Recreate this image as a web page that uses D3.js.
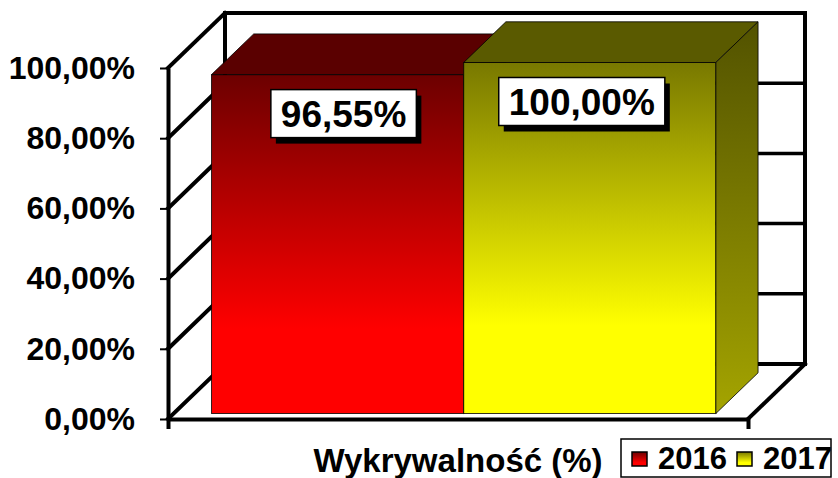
<!DOCTYPE html>
<html>
<head>
<meta charset="utf-8">
<script src="https://cdn.jsdelivr.net/npm/d3@7"></script>
<style>
  body { margin: 0; background: #fff; }
  svg text { font-family: Arial, "Liberation Sans", sans-serif; font-weight: bold; fill: #000; }
</style>
</head>
<body>
<svg id="chart" width="838" height="478"></svg>
<script>
const categories = ["Wykrywalność (%)"];
const series = ["2016", "2017"];
const values = [0.9655, 1.0];
const yTicks = [0, 0.2, 0.4, 0.6, 0.8, 1.0];

const pl = d3.formatLocale({ decimal: ",", thousands: " ", grouping: [3], currency: ["", " zł"] });
const fmt = pl.format(".2%");

const svg = d3.select("#chart");
const defs = svg.append("defs");

// depth vector of the 3d box and where the bars sit inside it
const depth = { x: 57, y: -55 };
const f0 = 0.1, f1 = 0.84;

const y = d3.scaleLinear().domain([0, 1]).range([419, 68]);
const xCat = d3.scaleBand().domain(categories).range([168, 748]);
const x = d3.scaleBand().domain(series).range([168, 748]).paddingOuter(0.15).paddingInner(0);

const colors = {
  "2016": { top: "#5a0000", dark: "#6c0000", light: "#ff0000", side: ["#4a0000", "#900000"] },
  "2017": { top: "#5a5a00", dark: "#787800", light: "#ffff00", side: ["#525200", "#a4a400"] }
};

series.forEach((s) => {
  let c = colors[s];
  let g = defs.append("linearGradient").attr("id", "front" + s)
    .attr("x1", 0).attr("y1", 0).attr("x2", 0).attr("y2", 1);
  g.append("stop").attr("offset", "0").attr("stop-color", c.dark);
  g.append("stop").attr("offset", "0.75").attr("stop-color", c.light);
  g.append("stop").attr("offset", "1").attr("stop-color", c.light);
  let gs = defs.append("linearGradient").attr("id", "side" + s)
    .attr("x1", 0).attr("y1", 0).attr("x2", 0).attr("y2", 1);
  gs.append("stop").attr("offset", "0").attr("stop-color", c.side[0]);
  gs.append("stop").attr("offset", "1").attr("stop-color", c.side[1]);
});

const x0 = xCat.range()[0], x1 = xCat.range()[1];
const yTop = y(1), yBot = y(0);

// walls
const walls = svg.append("g").attr("stroke", "#000").attr("fill", "none")
  .attr("stroke-linecap", "square");

// back wall
walls.append("rect")
  .attr("x", x0 + depth.x).attr("y", yTop + depth.y)
  .attr("width", x1 - x0).attr("height", yBot - yTop)
  .attr("fill", "#fff").attr("stroke-width", 4);

walls.selectAll("line.grid")
  .data(yTicks.slice(1, -1))
  .enter().append("line")
  .attr("class", "grid")
  .attr("x1", x0 + depth.x).attr("x2", x1 + depth.x)
  .attr("y1", (d) => y(d) + depth.y).attr("y2", (d) => y(d) + depth.y)
  .attr("stroke-width", 3.5);

// side wall diagonals
walls.selectAll("line.side")
  .data(yTicks)
  .enter().append("line")
  .attr("class", "side")
  .attr("x1", x0).attr("y1", (d) => y(d))
  .attr("x2", x0 + depth.x).attr("y2", (d) => y(d) + depth.y)
  .attr("stroke-width", 4);

// floor
walls.append("line")
  .attr("x1", x1).attr("y1", yBot)
  .attr("x2", x1 + depth.x).attr("y2", yBot + depth.y)
  .attr("stroke-width", 4);

// bars
const bars = svg.append("g");
series.forEach((s, i) => {
  let v = values[i];
  let xl = x(s) + depth.x * f0;
  let xr = xl + x.bandwidth();
  let yt = y(v) + depth.y * f0;
  let yb = y(0) + depth.y * f0;
  let dx = depth.x * (f1 - f0), dy = depth.y * (f1 - f0);
  let g = bars.append("g").attr("stroke", "#000").attr("stroke-width", 1).attr("stroke-opacity", 0.8);
  g.append("rect")
    .attr("x", xl).attr("y", yt)
    .attr("width", xr - xl).attr("height", yb - yt)
    .attr("fill", `url(#front${s})`);
  g.append("path")
    .attr("d", `M${xl},${yt}L${xr},${yt}L${xr + dx},${yt + dy}L${xl + dx},${yt + dy}Z`)
    .attr("fill", colors[s].top);
  g.append("path")
    .attr("d", `M${xr},${yt}L${xr + dx},${yt + dy}L${xr + dx},${yb + dy}L${xr},${yb}Z`)
    .attr("fill", `url(#side${s})`);
});

// axes
const yAxis = d3.axisLeft(y).tickValues(yTicks).tickFormat(fmt).tickSize(8).tickSizeOuter(0).tickPadding(25);
const ya = svg.append("g").attr("transform", `translate(${x0},0)`).call(yAxis);
ya.select(".domain").attr("stroke-width", 4);
ya.selectAll(".tick line").attr("stroke-width", 2);
ya.selectAll(".tick text").attr("font-size", 32).attr("font-family", null);

const xAxis = d3.axisBottom(xCat).tickSize(0).tickSizeOuter(10).tickFormat("");
const xa = svg.append("g").attr("transform", `translate(0,${yBot})`).call(xAxis);
xa.select(".domain").attr("stroke-width", 4);

svg.selectAll("text.cat")
  .data(categories)
  .enter().append("text")
  .attr("class", "cat")
  .attr("x", (d) => xCat(d) + xCat.bandwidth() / 2)
  .attr("y", 472)
  .attr("text-anchor", "middle")
  .attr("font-size", 33)
  .text((d) => d);

// data labels
const lab = svg.append("g");
const labShift = [6, -8];
series.forEach((s, i) => {
  let cx = x(s) + depth.x * f0 + x.bandwidth() / 2 + labShift[i];
  let top = y(values[i]) + depth.y * f0 + 15;
  let g = lab.append("g");
  let t = g.append("text")
    .attr("x", cx).attr("y", top + 37)
    .attr("text-anchor", "middle")
    .attr("font-size", 37)
    .text(fmt(values[i]));
  let w = t.node().getComputedTextLength() + 20;
  g.insert("rect", "text")
    .attr("x", cx - w / 2 + 5).attr("y", top + 6)
    .attr("width", w).attr("height", 48).attr("fill", "#000");
  g.insert("rect", "text")
    .attr("x", cx - w / 2).attr("y", top)
    .attr("width", w).attr("height", 48)
    .attr("fill", "#fff").attr("stroke", "#000").attr("stroke-width", 1.5);
});

// legend
const legend = svg.append("g").attr("transform", "translate(621,439)");
legend.append("rect").attr("width", 210).attr("height", 38)
  .attr("fill", "#fff").attr("stroke", "#000").attr("stroke-width", 1.5);
const legX = [11, 116];
series.forEach((s, i) => {
  legend.append("rect")
    .attr("x", legX[i]).attr("y", 13).attr("width", 15).attr("height", 14)
    .attr("fill", `url(#front${s})`).attr("stroke", "#000").attr("stroke-width", 1.5);
  legend.append("text")
    .attr("x", legX[i] + 26).attr("y", 30)
    .attr("font-size", 31)
    .text(s);
});
</script>
</body>
</html>
